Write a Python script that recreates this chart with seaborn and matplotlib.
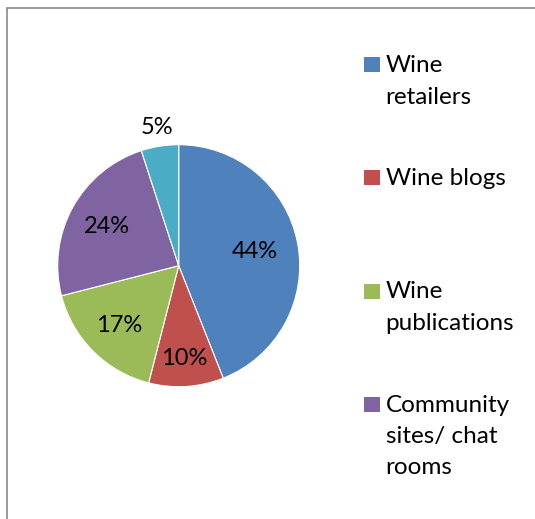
import matplotlib
matplotlib.use("Agg")
import matplotlib.pyplot as plt
from matplotlib.patches import Rectangle
import numpy as np
import seaborn as sns

# Source share data
categories = ["Wine retailers", "Wine blogs", "Wine publications",
              "Community sites/ chat rooms", "Other"]
legend_labels = ["Wine\nretailers", "Wine blogs", "Wine\npublications",
                 "Community\nsites/ chat\nrooms"]
shares = [44, 10, 17, 24, 5]
colors = ["#4F81BD", "#C0504D", "#9BBB59", "#8064A2", "#4BACC6"]

sns.set_theme(style="white")
plt.rcParams["font.family"] = ["Lato", "DejaVu Sans"]

W, H = 535, 519
fig = plt.figure(figsize=(W / 100, H / 100), dpi=100)
fig.patch.set_facecolor("white")

# chart frame (runs off the right and bottom edges)
fig.patches.append(Rectangle((7 / W, -0.1), 2.0, 1.1 - 8 / H,
                             transform=fig.transFigure, fill=False,
                             edgecolor="#8A8A8A", linewidth=1.2))

cx, cy, r = 178.7, 265.7, 121.0
ax = fig.add_axes([(cx - r) / W, (H - cy - r) / H, 2 * r / W, 2 * r / H])
wedges, _ = ax.pie(shares, colors=colors, startangle=90, counterclock=False,
                   radius=1.0, wedgeprops=dict(linewidth=0.8, edgecolor="white"))
ax.set_xlim(-1, 1)
ax.set_ylim(-1, 1)
ax.set_aspect("equal")
ax.axis("off")

# percentage labels placed along each wedge's mid angle
label_dist = [0.64, 0.77, 0.70, 0.68, 1.16]
for w, v, d in zip(wedges, shares, label_dist):
    ang = np.deg2rad((w.theta1 + w.theta2) / 2)
    ax.text(d * np.cos(ang), d * np.sin(ang), f"{v}%", ha="center",
            va="center", fontsize=17, color="black", clip_on=False)

# legend: colour square sitting on the first line's baseline
lx, base0, step, line_h = 364.3, 72.3, 113.1, 31.2
for i, lab in enumerate(legend_labels):
    b = base0 + i * step
    fig.patches.append(Rectangle((lx / W, 1 - b / H), 15.5 / W, 15 / H,
                                 transform=fig.transFigure,
                                 facecolor=colors[i], edgecolor="none"))
    for j, line in enumerate(lab.split("\n")):
        fig.text(385.5 / W, 1 - (b + j * line_h) / H, line, ha="left",
                 va="baseline", fontsize=17.5, color="black")

fig.savefig("out.png", dpi=100, facecolor="white")
